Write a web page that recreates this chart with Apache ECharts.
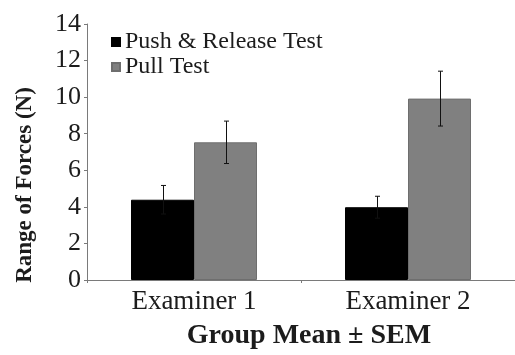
<!DOCTYPE html>
<html>
<head>
<meta charset="utf-8">
<script src="https://cdn.jsdelivr.net/npm/echarts@6/dist/echarts.min.js"></script>
<style>html,body{margin:0;padding:0;background:#fff;}#c{width:515px;height:355px;}</style>
</head>
<body>
<div id="c"></div>
<script>
const categories = ['Examiner 1', 'Examiner 2'];
const seriesNames = ['Push & Release Test', 'Pull Test'];
const pushMean = [4.39, 3.98];
const pushSem = [0.78, 0.60];
const pullMean = [7.53, 9.92];
const pullSem = [1.16, 1.50];
const yTicks = { min: 0, max: 14, interval: 2 };

const FONT = 'Liberation Serif';
const TEXT = '#1c1c1c';
const BAR_W = 63;

function errSeries(means, sems, offsetSign) {
  return {
    type: 'custom',
    silent: true,
    z: 5,
    data: means.map((m, i) => [i, m, sems[i]]),
    renderItem: function (params, api) {
      const i = api.value(0), m = api.value(1), s = api.value(2);
      const top = api.coord([i, m + s]);
      const bot = api.coord([i, m - s]);
      const x = Math.round(top[0] + offsetSign * BAR_W / 2) + 0.5;
      const cap = 2.5;
      const st = { stroke: '#111', lineWidth: 1 };
      return {
        type: 'group',
        children: [
          { type: 'line', shape: { x1: x, y1: top[1], x2: x, y2: bot[1] }, style: st },
          { type: 'line', shape: { x1: x - cap, y1: top[1], x2: x + cap, y2: top[1] }, style: st },
          { type: 'line', shape: { x1: x - cap, y1: bot[1], x2: x + cap, y2: bot[1] }, style: st }
        ]
      };
    }
  };
}

const chart = echarts.init(document.getElementById('c'));
chart.setOption({
  animation: false,
  backgroundColor: '#fff',
  textStyle: { fontFamily: FONT, color: TEXT },
  grid: { left: 87, top: 24, height: 259, width: 441 },
  legend: {
    orient: 'vertical',
    left: 106,
    top: 25,
    itemWidth: 8,
    itemHeight: 8,
    itemGap: 1,
    icon: 'rect',
    textStyle: { fontFamily: FONT, fontSize: 24, color: TEXT, padding: [0, 0, 0, 0] },
    data: seriesNames
  },
  xAxis: {
    type: 'category',
    data: categories,
    axisLine: { lineStyle: { color: '#7a7a7a', width: 1 } },
    axisTick: { show: true, length: 3, lineStyle: { color: '#7a7a7a' } },
    axisLabel: { fontFamily: FONT, fontSize: 27, color: TEXT, margin: 8 },
    name: 'Group Mean ± SEM',
    nameLocation: 'middle',
    nameGap: 42,
    nameTextStyle: { fontFamily: FONT, fontSize: 28, fontWeight: 'bold', color: TEXT, padding: [0, 0, 0, 16] }
  },
  yAxis: {
    type: 'value',
    min: yTicks.min,
    max: yTicks.max,
    interval: yTicks.interval,
    splitLine: { show: false },
    axisLine: { show: true, lineStyle: { color: '#7a7a7a', width: 1 } },
    axisTick: { show: true, length: 3, lineStyle: { color: '#7a7a7a' } },
    axisLabel: { fontFamily: FONT, fontSize: 26, color: TEXT, margin: 6 }
  },
  graphic: [{
    type: 'text',
    x: 25,
    y: 185,
    rotation: Math.PI / 2,
    style: {
      text: 'Range of Forces (N)',
      font: "bold 23px 'Liberation Serif', serif",
      fill: TEXT,
      textAlign: 'center',
      textVerticalAlign: 'middle'
    }
  }],
  series: [
    {
      name: seriesNames[0],
      type: 'bar',
      data: pushMean,
      barWidth: BAR_W,
      barGap: '0%',
      itemStyle: { color: '#000', borderColor: '#000', borderWidth: 1 }
    },
    {
      name: seriesNames[1],
      type: 'bar',
      data: pullMean,
      barWidth: BAR_W,
      barGap: '0%',
      itemStyle: { color: '#808080', borderColor: '#6e6e6e', borderWidth: 1 }
    },
    errSeries(pushMean, pushSem, -1),
    errSeries(pullMean, pullSem, 1)
  ]
});
</script>
</body>
</html>
